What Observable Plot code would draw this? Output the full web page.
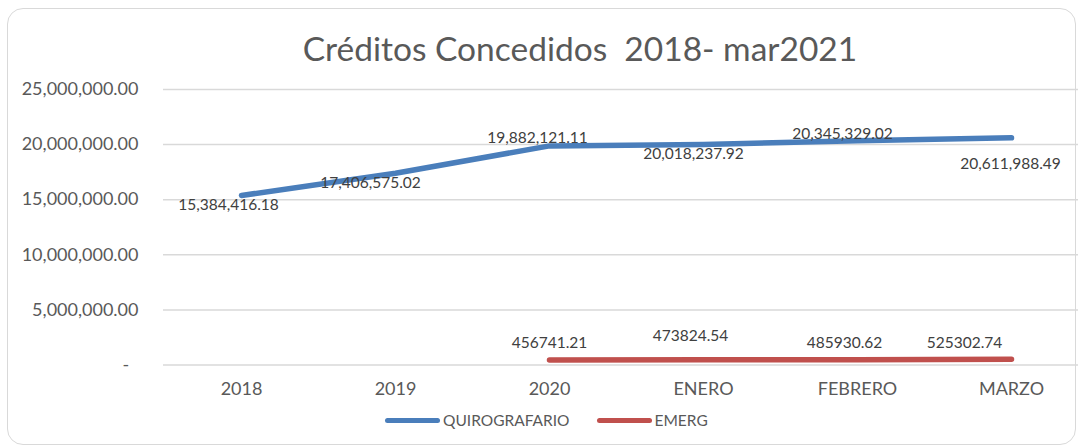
<!DOCTYPE html>
<html>
<head>
<meta charset="utf-8">
<script src="https://cdn.jsdelivr.net/npm/d3@7"></script>
<script src="https://cdn.jsdelivr.net/npm/@observablehq/plot@0.6"></script>
<style>
  html, body { margin: 0; padding: 0; background: #fff; }
  #wrap { position: relative; width: 1078px; height: 448px; overflow: hidden; background: #fff; font-family: Lato, "Open Sans", sans-serif; }
  #border { position: absolute; left: 7px; top: 8px; width: 1067px; height: 435px; border: 1.5px solid #d9d9d9; border-radius: 16px; }
  #title { position: absolute; left: 0; width: 1160px; top: 28px; text-align: center; font-size: 33.5px; line-height: 40px; color: #595959; white-space: pre; }
  #chart { position: absolute; left: 0; top: 0; }
  #legend { position: absolute; top: 410px; left: 385px; height: 20px; display: flex; align-items: center; font-size: 15.5px; color: #595959; }
  .sw { display: inline-block; width: 55px; height: 5px; border-radius: 3px; margin-right: 3px; }
</style>
</head>
<body>
<div id="wrap">
  <div id="border"></div>
  <div id="chart"></div>
  <div id="title">Créditos Concedidos  2018- mar2021</div>
  <div id="legend"></div>
</div>
<script>
const categories = ["2018", "2019", "2020", "ENERO", "FEBRERO", "MARZO"];
const quirografario = [15384416.18, 17406575.02, 19882121.11, 20018237.92, 20345329.02, 20611988.49];
const emerg = [null, null, 456741.21, 473824.54, 485930.62, 525302.74];
const yTicks = [0, 5000000, 10000000, 15000000, 20000000, 25000000];
const seriesNames = ["QUIROGRAFARIO", "EMERG"];
const seriesColors = ["#4a7ebb", "#c0504d"];

// label placement offsets (pixels), as positioned in the reference
const quiroOffsets = [[-13, 10], [-25, 10], [-12, -8], [-10, 10], [-15, -7], [-1, 26]];
const emergOffsets = [null, null, [0, -17], [-13, -24], [-13, -17], [-47, -16]];

const quiroRows = categories.map((c, i) => ({cat: c, value: quirografario[i]}));
const emergRows = categories.map((c, i) => ({cat: c, value: emerg[i]})).filter(d => d.value != null);

const fmtComma = d3.format(",.2f");
const fmtPlain = d3.format(".2f");

const labelStyle = {fontSize: 15.5, fill: "#404040", fontFamily: "Lato, sans-serif"};

const quiroLabels = quiroOffsets.map(([dx, dy], i) =>
  Plot.text([quiroRows[i]], {x: "cat", y: "value", text: d => fmtComma(d.value), dx, dy, ...labelStyle}));
const emergLabels = emergOffsets.map((o, i) => o == null ? null :
  Plot.text([{cat: categories[i], value: emerg[i]}], {x: "cat", y: "value", text: d => fmtPlain(d.value), dx: o[0], dy: o[1], ...labelStyle})).filter(Boolean);

const chart = Plot.plot({
  width: 1078,
  height: 448,
  marginLeft: 163,
  marginRight: 0,
  marginTop: 89,
  marginBottom: 83.5,
  style: {fontFamily: "Lato, sans-serif", background: "transparent", overflow: "visible"},
  x: {type: "point", domain: categories, range: [163, 1088], padding: 0.5, label: null},
  y: {domain: [0, 25000000], label: null},
  marks: [
    Plot.gridY(yTicks, {stroke: "#d9d9d9", strokeOpacity: 1, strokeWidth: 1.5}),
    Plot.axisY(yTicks, {tickSize: 0, tickPadding: 25, fontSize: 18, fill: "#595959",
      tickFormat: d => d === 0 ? "-\u00a0\u00a0" : fmtComma(d), label: null}),
    Plot.axisX({tickSize: 0, tickPadding: 17, fontSize: 18, fill: "#595959", label: null}),
    Plot.line(quiroRows, {x: "cat", y: "value", stroke: seriesColors[0], strokeWidth: 5.5, strokeLinecap: "round", strokeLinejoin: "round"}),
    Plot.line(emergRows, {x: "cat", y: "value", stroke: seriesColors[1], strokeWidth: 5.5, strokeLinecap: "round", strokeLinejoin: "round"}),
    ...quiroLabels,
    ...emergLabels
  ]
});
document.getElementById("chart").appendChild(chart);

const legend = document.getElementById("legend");
seriesNames.forEach((name, i) => {
  const item = document.createElement("span");
  item.style.display = "inline-flex";
  item.style.alignItems = "center";
  item.style.marginRight = i === 0 ? "27px" : "0";
  const sw = document.createElement("span");
  sw.className = "sw";
  sw.style.background = seriesColors[i];
  item.appendChild(sw);
  item.appendChild(document.createTextNode(name));
  legend.appendChild(item);
});
</script>
</body>
</html>
